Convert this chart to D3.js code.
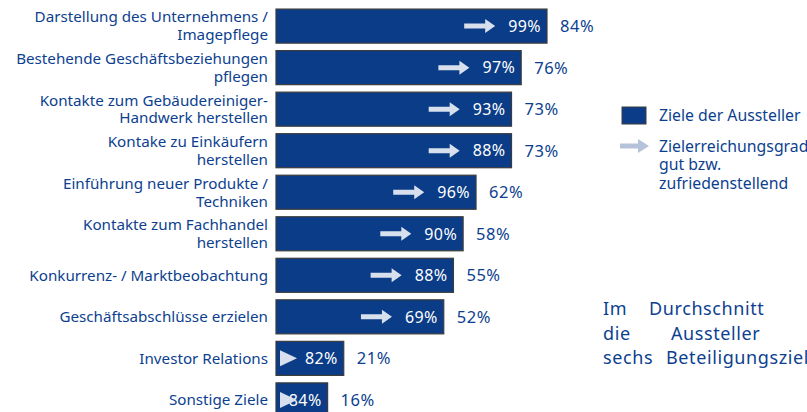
<!DOCTYPE html>
<html>
<head>
<meta charset="utf-8">
<script src="https://cdn.jsdelivr.net/npm/d3@7"></script>
<style>
  body { margin: 0; background: #fff; }
  svg { font-family: "Noto Sans", sans-serif; }
</style>
</head>
<body>
<div id="chart"></div>
<script>
const categories = [
  ["Darstellung des Unternehmens /", "Imagepflege"],
  ["Bestehende Geschäftsbeziehungen", "pflegen"],
  ["Kontakte zum Gebäudereiniger-", "Handwerk herstellen"],
  ["Kontake zu Einkäufern", "herstellen"],
  ["Einführung neuer Produkte /", "Techniken"],
  ["Kontakte zum Fachhandel", "herstellen"],
  ["Konkurrenz- / Marktbeobachtung"],
  ["Geschäftsabschlüsse erzielen"],
  ["Investor Relations"],
  ["Sonstige Ziele"]
];
const goals = [84, 76, 73, 73, 62, 58, 55, 52, 21, 16];
const achieved = [99, 97, 93, 88, 96, 90, 88, 69, 82, 84];
const legendLabels = ["Ziele der Aussteller", ["Zielerreichungsgrad", "gut bzw.", "zufriedenstellend"]];
const noteLines = [["Im", "Durchschnitt"], ["die", "Aussteller"], ["sechs", "Beteiligungsziele"]];

const width = 807, height = 412;
const blue = "#0a3c87", textBlue = "#0d3f8f", arrowCol = "#d8e0ee";

const svg = d3.select("#chart").append("svg")
    .attr("width", width)
    .attr("height", height);

const x = d3.scaleLinear().domain([0, 84]).range([276, 547]);
const y = d3.scaleBand()
    .domain(d3.range(categories.length))
    .range([7, 419])
    .paddingInner(0.18)
    .paddingOuter(0.05);

const rows = svg.selectAll("g.row")
    .data(categories.map((c, i) => ({ label: c, goal: goals[i], ach: achieved[i], i })))
    .enter()
    .append("g")
    .attr("class", "row")
    .attr("transform", d => `translate(0,${y(d.i)})`);

const bh = y.bandwidth();

rows.append("rect")
    .attr("x", x(0))
    .attr("y", 0)
    .attr("width", d => x(d.goal) - x(0))
    .attr("height", bh)
    .attr("fill", blue)
    .attr("stroke", "#3c3c3c")
    .attr("stroke-width", 1.2);

// category labels
rows.each(function(d) {
  const g = d3.select(this);
  const n = d.label.length;
  d.label.forEach((line, k) => {
    g.append("text")
      .attr("x", 268)
      .attr("y", bh / 2 + (k - (n - 1) / 2) * 18)
      .attr("dy", "0.35em")
      .attr("text-anchor", "end")
      .attr("font-size", 15.2)
      .attr("fill", textBlue)
      .text(line);
  });
});

// inner values and arrows
rows.each(function(d) {
  const g = d3.select(this);
  const t = g.append("text")
    .attr("x", x(d.goal) - 6)
    .attr("y", bh / 2)
    .attr("dy", "0.36em")
    .attr("text-anchor", "end")
    .attr("font-size", 16)
    .attr("letter-spacing", 0.4)
    .attr("fill", "#fff")
    .text(d.ach + "%");
  const tw = t.node().getComputedTextLength();
  const start = x(d.goal) - 6 - tw;
  const cy = bh / 2;
  if (d.goal > 30) {
    const x1 = start - 13, x0 = x1 - 31;
    g.append("path")
      .attr("d", `M${x0},${cy - 2.5}H${x1 - 10}V${cy - 7}L${x1},${cy}L${x1 - 10},${cy + 7}V${cy + 2.5}H${x0}Z`)
      .attr("fill", arrowCol);
  } else {
    const x0 = x(0) + 4;
    g.append("path")
      .attr("d", `M${x0},${cy - 8}L${x0 + 17},${cy}L${x0},${cy + 8}Z`)
      .attr("fill", arrowCol);
  }
});

// outer values
rows.append("text")
  .attr("x", d => x(d.goal) + 13)
  .attr("y", bh / 2)
  .attr("dy", "0.36em")
  .attr("font-size", 16.5)
  .attr("letter-spacing", 0.5)
  .attr("fill", textBlue)
  .text(d => d.goal + "%");

// legend
const lg = svg.append("g");
lg.append("rect")
  .attr("x", 622).attr("y", 107).attr("width", 24).attr("height", 17)
  .attr("fill", blue).attr("stroke", "#3c3c3c");
lg.append("text")
  .attr("x", 659).attr("y", 115.5).attr("dy", "0.35em")
  .attr("font-size", 15.8).attr("fill", textBlue)
  .text(legendLabels[0]);
lg.append("path")
  .attr("d", "M620,143.5H638V139L649,146L638,153V148.5H620Z")
  .attr("fill", "#b5c3da");
legendLabels[1].forEach((line, k) => {
  lg.append("text")
    .attr("x", 659).attr("y", 146 + k * 18.5).attr("dy", "0.35em")
    .attr("font-size", 15.8).attr("fill", textBlue)
    .text(line);
});

// note text (justified, runs past the right edge as in the source)
const noteX = [[603, 649], [603, 671], [603, 666]];
noteLines.forEach((words, k) => {
  words.forEach((w, j) => {
    svg.append("text")
      .attr("x", noteX[k][j])
      .attr("y", 309 + k * 24.5)
      .attr("dy", "0.35em")
      .attr("font-size", 18)
      .attr("letter-spacing", 0.6)
      .attr("fill", textBlue)
      .text(w);
  });
});
</script>
</body>
</html>
